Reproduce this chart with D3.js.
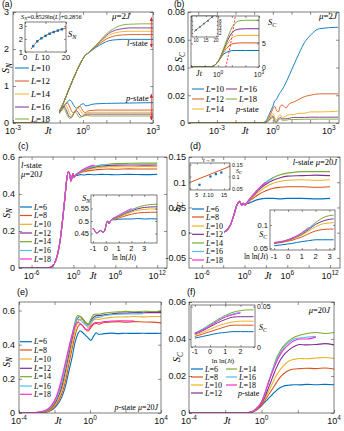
<!DOCTYPE html>
<html><head><meta charset="utf-8">
<script src="https://cdn.jsdelivr.net/npm/d3@7"></script>
<style>body{margin:0;background:#fff}svg{display:block}</style>
</head><body>
<script>
const SANS="'Liberation Sans', Arial, Helvetica, sans-serif";
const SERIF="'Liberation Serif', 'Times New Roman', serif";
const AX="#262626";
const C7=["#0072BD","#D95319","#EDB120","#7E2F8E","#77AC30","#4DBEEE","#FF2CD0"];
const C5=C7.slice(0,5);

// ---------- DATA ----------
const aL=[10,12,14,16,18];
const cL=[6,8,10,12,14,16,18];
// (a) log10(Jt) grids and values
const aLogT=[-3,-2,-1.5,-1.2,-1,-0.8,-0.6,-0.4,-0.2,0,0.1,0.2,0.35,0.5,0.7,0.9,1.1,1.4,1.7,2,2.5,3];
const aLstate=[
 [0,0,0.03,0.15,0.33,0.6,0.92,1.22,1.5,1.74,1.83,1.88,1.95,2.02,2.1,2.17,2.22,2.25,2.26,2.26,2.26,2.26],
 [0,0,0.03,0.15,0.33,0.6,0.92,1.22,1.5,1.74,1.83,1.88,1.96,2.04,2.14,2.23,2.3,2.36,2.38,2.39,2.39,2.39],
 [0,0,0.03,0.15,0.33,0.6,0.92,1.22,1.5,1.74,1.83,1.88,1.97,2.05,2.17,2.28,2.37,2.44,2.47,2.48,2.48,2.48],
 [0,0,0.03,0.15,0.33,0.6,0.92,1.22,1.5,1.74,1.83,1.88,1.97,2.06,2.19,2.31,2.42,2.51,2.55,2.57,2.57,2.57],
 [0,0,0.03,0.15,0.33,0.6,0.92,1.22,1.5,1.74,1.83,1.88,1.98,2.07,2.2,2.34,2.46,2.58,2.65,2.67,2.68,2.68]];
const pLogT=[-3,-2,-1.6,-1.3,-1.15,-1.0,-0.92,-0.85,-0.78,-0.7,-0.63,-0.56,-0.49,-0.42,-0.35,-0.27,-0.2,-0.13,-0.05,0.03,0.1,0.2,0.35,0.6,1,2,3];
const aPstate=[
 [0,0,0.02,0.1,0.19,0.28,0.34,0.4,0.47,0.54,0.6,0.62,0.58,0.5,0.43,0.4,0.41,0.47,0.51,0.52,0.47,0.47,0.5,0.52,0.53,0.54,0.55],
 [0,0,0.02,0.1,0.19,0.28,0.36,0.44,0.5,0.55,0.52,0.42,0.32,0.28,0.3,0.38,0.44,0.45,0.38,0.3,0.28,0.32,0.34,0.35,0.35,0.35,0.35],
 [0,0,0.02,0.1,0.19,0.29,0.38,0.46,0.5,0.46,0.35,0.25,0.2,0.24,0.33,0.39,0.4,0.35,0.27,0.23,0.25,0.28,0.29,0.29,0.29,0.29,0.29],
 [0,0,0.02,0.1,0.2,0.3,0.4,0.45,0.43,0.33,0.22,0.16,0.15,0.22,0.31,0.33,0.28,0.21,0.18,0.2,0.23,0.24,0.24,0.24,0.24,0.24,0.24],
 [0,0,0.02,0.1,0.2,0.32,0.4,0.42,0.36,0.25,0.16,0.12,0.16,0.24,0.3,0.26,0.18,0.15,0.17,0.19,0.2,0.2,0.19,0.19,0.19,0.19,0.19]];
const aArrowLogT=2.93, aArrowL=[2.05,2.85], aArrowP=[0.08,0.78];
// (a) inset
const aiL=[4,6,8,10,12,14,16,18];
const aiS=[1.45,1.82,2.05,2.24,2.4,2.53,2.64,2.74];
const aiFitL=[3,4,5,6,8,10,12,14,16,18,20];
const aiFitS=[1.22,1.47,1.66,1.81,2.06,2.25,2.41,2.54,2.65,2.75,2.84];
// (b)
const bLogT=[-4.5,-2,-1,-0.6,-0.4,-0.3,-0.2,-0.1,0,0.1,0.2,0.3,0.4,0.5,0.7,0.9,1.1,1.4,1.7,2,2.5,3.5];
const bPstate=[
 [0,0,0,0.0002,0.001,0.003,0.006,0.009,0.012,0.016,0.017,0.02,0.022,0.024,0.029,0.035,0.041,0.05,0.058,0.063,0.068,0.069],
 [0,0,0,0,0.0005,0.002,0.004,0.007,0.01,0.012,0.009,0.008,0.012,0.013,0.011,0.014,0.015,0.017,0.019,0.02,0.021,0.021],
 [0,0,0,0,0.0003,0.001,0.003,0.005,0.007,0.004,0.002,0.005,0.006,0.004,0.005,0.006,0.006,0.007,0.007,0.008,0.008,0.0085],
 [0,0,0,0,0.0002,0.001,0.002,0.004,0.005,0.002,0.001,0.003,0.004,0.003,0.003,0.0035,0.004,0.004,0.004,0.0042,0.0042,0.0042],
 [0,0,0,0,0.0002,0.001,0.002,0.003,0.004,0.001,0.0005,0.002,0.003,0.002,0.002,0.0025,0.0025,0.0026,0.0027,0.0027,0.0028,0.0028]];
const biLogT=[-2,-1,-0.5,-0.2,0,0.2,0.4,0.6,0.8,1,1.3,1.6,2,3];
const biLstate=[
 [0,0,0.1,0.5,1.2,2.0,2.7,3.1,3.35,3.45,3.5,3.5,3.5,3.5],
 [0,0,0.1,0.5,1.2,2.1,3.1,3.9,4.5,4.85,5.05,5.1,5.1,5.1],
 [0,0,0.1,0.5,1.2,2.2,3.4,4.5,5.5,6.1,6.55,6.7,6.7,6.7],
 [0,0,0.1,0.5,1.2,2.3,3.7,5.0,6.3,7.2,7.85,8.05,8.1,8.1],
 [0,0,0.1,0.5,1.2,2.4,3.9,5.5,7.0,8.3,9.4,9.8,9.9,9.9]];
const biFitLogT=[0.55,0.75,0.95,1.1,1.3];
const biFitS=[0,2.5,5.5,8,11.5];
const bmL=[10,12,14,16,18];
const bmS=[3.5,5.1,6.7,8.1,9.9];
const bmFitL=[9,19], bmFitS=[2.7,10.7];
// (c)
const cLogT=[-7.8,-4,-3.4,-2.8,-2.3,-1.9,-1.5,-1.2,-0.96,-0.73,-0.5,-0.38,-0.2,-0.1,0.1,0.24,0.5,1,1.5,2,3,4,5,6,8,10,12];
const cLstate=[
 [0,0,0.002,0.02,0.07,0.15,0.28,0.39,0.48,0.52,0.5,0.47,0.49,0.51,0.49,0.5,0.5,0.505,0.503,0.506,0.504,0.506,0.505,0.504,0.506,0.505,0.506],
 [0,0,0.002,0.02,0.07,0.15,0.28,0.39,0.48,0.52,0.5,0.47,0.49,0.51,0.49,0.5,0.505,0.515,0.52,0.525,0.53,0.533,0.535,0.534,0.536,0.535,0.535],
 [0,0,0.002,0.02,0.07,0.15,0.28,0.39,0.48,0.52,0.5,0.47,0.49,0.51,0.49,0.5,0.505,0.518,0.525,0.532,0.54,0.545,0.547,0.548,0.547,0.549,0.548],
 [0,0,0.002,0.02,0.07,0.15,0.28,0.39,0.48,0.52,0.5,0.47,0.49,0.51,0.49,0.5,0.508,0.52,0.528,0.536,0.545,0.551,0.554,0.556,0.557,0.556,0.557],
 [0,0,0.002,0.02,0.07,0.15,0.28,0.39,0.48,0.52,0.5,0.47,0.49,0.51,0.49,0.5,0.508,0.52,0.53,0.538,0.548,0.556,0.561,0.564,0.566,0.567,0.567],
 [0,0,0.002,0.02,0.07,0.15,0.28,0.39,0.48,0.52,0.5,0.47,0.49,0.51,0.49,0.5,0.508,0.521,0.531,0.54,0.55,0.557,0.561,null,null,null,null],
 [0,0,0.002,0.02,0.07,0.15,0.28,0.39,0.48,0.52,0.5,0.47,0.49,0.51,0.49,0.5,0.509,0.523,0.535,0.545,0.556,null,null,null,null,null,null]];
const ciX=[-1,-0.85,-0.7,-0.55,-0.4,-0.25,-0.1,0.05,0.15,0.25,0.35,0.5,0.75,1,1.5,2,2.5,3,3.5,4];
const ciS=[
 [0.47,0.46,0.452,0.458,0.462,0.455,0.46,0.49,0.5,0.49,0.5,0.505,0.505,0.507,0.508,0.508,0.51,0.508,0.509,0.508],
 [0.47,0.46,0.452,0.458,0.462,0.455,0.46,0.49,0.5,0.49,0.5,0.505,0.508,0.512,0.52,0.527,0.532,0.534,0.535,0.535],
 [0.47,0.46,0.452,0.458,0.462,0.455,0.46,0.49,0.5,0.49,0.5,0.506,0.51,0.515,0.525,0.535,0.543,0.546,0.548,0.548],
 [0.47,0.46,0.452,0.458,0.462,0.455,0.46,0.49,0.5,0.49,0.5,0.507,0.512,0.518,0.53,0.54,0.549,0.554,0.556,0.557],
 [0.47,0.46,0.452,0.458,0.462,0.455,0.46,0.49,0.5,0.49,0.5,0.507,0.513,0.52,0.532,0.544,0.555,0.562,0.566,0.567],
 [0.47,0.46,0.452,0.458,0.462,0.455,0.46,0.49,0.5,0.49,0.5,0.508,0.514,0.521,0.534,0.546,0.553,null,null,null],
 [0.47,0.46,0.452,0.458,0.462,0.455,0.46,0.49,0.5,0.49,0.5,0.509,0.516,0.523,0.537,0.55,null,null,null,null]];
// (d)
const dLogT=[-7.8,-4,-3.4,-2.8,-2.3,-1.9,-1.5,-1.2,-0.96,-0.73,-0.5,-0.38,-0.2,-0.1,0.1,0.24,0.5,1,1.5,2,3,4,5,6,8,10,12];
const dLstate=[
 [0,0,0,0.002,0.008,0.018,0.035,0.05,0.058,0.062,0.057,0.054,0.058,0.057,0.055,0.058,0.058,0.061,0.064,0.066,0.068,0.068,0.067,0.068,0.068,0.067,0.068],
 [0,0,0,0.002,0.008,0.018,0.035,0.05,0.058,0.062,0.057,0.054,0.058,0.057,0.055,0.058,0.06,0.066,0.071,0.076,0.083,0.088,0.09,0.091,0.091,0.09,0.091],
 [0,0,0,0.002,0.008,0.018,0.035,0.05,0.058,0.062,0.057,0.054,0.058,0.057,0.055,0.058,0.061,0.068,0.075,0.081,0.091,0.098,0.102,0.104,0.105,0.104,0.105],
 [0,0,0,0.002,0.008,0.018,0.035,0.05,0.058,0.062,0.057,0.054,0.058,0.057,0.055,0.058,0.062,0.07,0.077,0.085,0.096,0.104,0.109,0.112,0.113,0.114,0.113],
 [0,0,0,0.002,0.008,0.018,0.035,0.05,0.058,0.062,0.057,0.054,0.058,0.057,0.055,0.058,0.062,0.071,0.079,0.087,0.1,0.109,0.115,0.118,0.121,0.121,0.121],
 [0,0,0,0.002,0.008,0.018,0.035,0.05,0.058,0.062,0.057,0.054,0.058,0.057,0.055,0.058,0.062,0.071,0.079,0.087,0.1,0.108,null,null,null,null,null],
 [0,0,0,0.002,0.008,0.018,0.035,0.05,0.058,0.062,0.057,0.054,0.058,0.057,0.055,0.058,0.063,0.072,0.08,0.088,0.1,null,null,null,null,null,null]];
const d1L=[6,10,12,14];
const d1S=[0.065,0.1,0.11,0.117];
const d1FitL=[2.5,17.2], d1FitS=[0.075,0.143];
const d2X=[-1,-0.5,0,0.3,0.6,1,1.5,2,2.5,3,3.3];
const d2S=[
 [0.055,0.057,0.059,0.06,0.062,0.064,0.066,0.068,0.068,0.068,0.068],
 [0.06,0.062,0.065,0.067,0.07,0.074,0.081,0.087,0.09,0.091,0.091],
 [0.061,0.063,0.066,0.069,0.073,0.078,0.087,0.096,0.102,0.104,0.105],
 [0.061,0.063,0.067,0.07,0.074,0.08,0.09,0.101,0.108,0.112,0.113],
 [0.062,0.064,0.068,0.071,0.075,0.081,0.092,0.105,0.115,0.12,0.121],
 [0.062,0.064,0.068,0.071,0.075,0.082,0.093,0.104,null,null,null],
 [0.062,0.064,0.068,0.072,0.076,0.083,0.095,null,null,null,null]];
// (e)
const eLogT=[-4,-3,-2.5,-2.2,-1.9,-1.6,-1.4,-1.2,-1.0,-0.85,-0.7,-0.55,-0.4,-0.25,-0.1,0.05,0.2,0.35,0.5,0.8,1.2,1.6,2,2.5,3,3.5,4];
const ePstate=[
 [0,0.001,0.005,0.015,0.04,0.09,0.15,0.24,0.33,0.41,0.46,0.48,0.47,0.455,0.44,0.425,0.45,0.47,0.46,0.465,0.468,0.465,0.467,0.466,0.467,0.466,0.467],
 [0,0.001,0.006,0.018,0.05,0.11,0.18,0.28,0.38,0.45,0.5,0.52,0.51,0.49,0.48,0.5,0.52,0.525,0.52,0.53,0.533,0.535,0.532,0.535,0.533,0.532,0.528],
 [0,0.002,0.008,0.022,0.06,0.13,0.21,0.31,0.41,0.48,0.53,0.55,0.545,0.52,0.5,0.52,0.545,0.55,0.548,0.555,0.56,0.562,0.563,0.565,0.563,0.565,0.565],
 [0,0.002,0.01,0.027,0.07,0.15,0.24,0.34,0.44,0.51,0.555,0.565,0.55,0.53,0.52,0.54,0.56,0.57,0.57,0.575,0.58,0.585,0.585,0.588,0.587,0.588,0.588],
 [0,0.003,0.012,0.032,0.08,0.17,0.26,0.36,0.46,0.53,0.57,0.565,0.55,0.53,0.52,0.55,0.575,0.58,0.578,0.585,0.59,0.592,0.595,0.593,0.596,0.594,0.595],
 [0,0.003,0.014,0.036,0.085,0.18,0.27,0.37,0.46,0.52,0.55,0.545,0.53,0.515,0.51,0.53,0.55,0.56,0.56,0.57,0.575,0.578,0.58,0.58,0.582,null,null],
 [0,0.004,0.016,0.04,0.095,0.2,0.29,0.38,0.46,0.51,0.53,0.525,0.51,0.49,0.49,0.51,0.525,0.53,0.53,0.535,0.538,0.54,0.54,0.539,null,null,null]];
// (f)
const fLogT=[-4,-1,-0.6,-0.3,0,0.2,0.4,0.6,0.8,1,1.2,1.5,1.8,2.1,2.5,3,3.5,4];
const fPstate=[
 [0,0,0.0003,0.0015,0.004,0.006,0.008,0.01,0.012,0.0135,0.0145,0.015,0.0153,0.0152,0.0155,0.0153,0.0155,0.0153],
 [0,0,0.0003,0.0015,0.004,0.007,0.01,0.013,0.016,0.019,0.021,0.023,0.0238,0.024,0.0242,0.024,0.0243,0.0238],
 [0,0,0.0004,0.0018,0.005,0.008,0.012,0.016,0.02,0.023,0.0255,0.028,0.029,0.0295,0.0293,0.0297,0.03,0.0295],
 [0,0,0.0004,0.002,0.005,0.009,0.014,0.019,0.024,0.028,0.031,0.034,0.036,0.037,0.0368,0.037,0.0375,0.0368],
 [0,0,0.0005,0.0022,0.006,0.011,0.017,0.023,0.029,0.033,0.036,0.039,0.041,0.042,0.043,0.0435,0.043,0.0435],
 [0,0,0.0005,0.0022,0.006,0.011,0.017,0.023,0.028,0.032,0.035,0.038,0.04,0.0405,0.041,0.0415,null,null],
 [0,0,0.0005,0.0022,0.006,0.011,0.017,0.022,0.027,0.031,0.034,0.037,0.039,0.04,0.04,0.041,null,null]];
const fiX=[-1,-0.5,0,0.5,1,1.5,2,2.5,2.85];
const fiS=[
 [0.011,0.013,0.015,0.017,0.018,0.019,0.019,0.019,0.019],
 [0.013,0.016,0.019,0.022,0.025,0.027,0.027,0.027,0.027],
 [0.015,0.018,0.022,0.026,0.029,0.031,0.032,0.032,0.032],
 [0.016,0.02,0.025,0.03,0.034,0.037,0.0375,0.0375,0.0375],
 [0.017,0.022,0.028,0.034,0.039,0.043,0.045,0.046,0.046],
 [0.017,0.022,0.027,0.033,0.038,0.041,0.043,null,null],
 [0.017,0.021,0.026,0.032,0.037,0.04,0.042,null,null]];

// ---------- DRAWING ----------
const svg=d3.select('body').append('svg').attr('width',344).attr('height',431);
svg.append('rect').attr('width',344).attr('height',431).attr('fill','#fff');
const defs=svg.append('defs');
defs.append('marker').attr('id','arr').attr('viewBox','0 0 10 10').attr('refX',9).attr('refY',5)
  .attr('markerWidth',4).attr('markerHeight',4).attr('markerUnits','userSpaceOnUse').attr('orient','auto-start-reverse')
  .append('path').attr('d','M0,1L10,5L0,9Z').attr('fill','#E8161B');
let nclip=0;

function rich(g,x,y,parts,o={}){
  const fs=o.fs||9;
  const t=g.append('text').attr('x',x).attr('y',y).attr('font-size',fs).attr('font-family',o.ff||SERIF)
    .attr('text-anchor',o.anchor||'start').attr('fill',o.fill||'#000');
  if(o.rot) t.attr('transform',`rotate(${o.rot},${x},${y})`);
  let shift=0;
  parts.forEach(([s,st])=>{
    st=st||'';
    const sp=t.append('tspan').text(s);
    let target=0;
    if(st.includes('sub')){target=fs*0.28;sp.attr('font-size',fs*0.72);}
    if(st.includes('sup')){target=-fs*0.4;sp.attr('font-size',fs*0.72);}
    if(target!==shift){sp.attr('dy',target-shift);shift=target;}
    if(st.includes('i')) sp.attr('font-style','italic');
  });
  return t;
}
function panel(o){
  const g=svg.append('g');
  const x=o.xlog?d3.scaleLog().domain([10**o.xdom[0],10**o.xdom[1]]).range([o.l,o.r]):d3.scaleLinear().domain(o.xdom).range([o.l,o.r]);
  const y=d3.scaleLinear().domain(o.ydom).range([o.b,o.t]);
  const id='clip'+(nclip++);
  g.append('clipPath').attr('id',id).append('rect').attr('x',o.l).attr('y',o.t).attr('width',o.r-o.l).attr('height',o.b-o.t);
  if(o.bg) g.append('rect').attr('x',o.l).attr('y',o.t).attr('width',o.r-o.l).attr('height',o.b-o.t).attr('fill','#fff');
  const plot=g.append('g').attr('clip-path',`url(#${id})`);
  return {g,plot,x,y,o,X:v=>o.xlog?x(10**v):x(v)};
}
function lines(P,xs,rows,colors,w,dash){
  rows.forEach((r,i)=>{
    const pts=xs.map((v,j)=>[v,r[j]]);
    const p=P.plot.append('path').datum(pts).attr('fill','none').attr('stroke',colors[i]).attr('stroke-width',w||1)
      .attr('stroke-linejoin','round')
      .attr('d',d3.line().defined(d=>d[1]!=null).x(d=>P.X(d[0])).y(d=>P.y(d[1])).curve(d3.curveMonotoneX));
    if(dash) p.attr('stroke-dasharray',dash);
  });
}
function squares(P,xs,ys,color,s){
  P.plot.selectAll(null).data(xs.map((v,i)=>[v,ys[i]])).enter().append('rect')
    .attr('x',d=>P.X(d[0])-s/2).attr('y',d=>P.y(d[1])-s/2).attr('width',s).attr('height',s).attr('fill',color);
}
function axes(P,a){
  const o=P.o,g=P.g,tl=a.tl||3,fs=a.fs||9;
  const xv=a.xt.map(v=>o.xlog?10**v:v);
  const style=s=>{s.select('.domain').remove();s.selectAll('line').attr('stroke',AX).attr('stroke-width',0.5);
    s.selectAll('text').attr('font-size',fs).attr('font-family',SANS).attr('fill','#111');};
  const fmt=a.yfmt||(d=>String(d));
  g.append('g').attr('transform',`translate(0,${o.b})`).call(d3.axisBottom(P.x).tickValues(xv).tickSize(-tl).tickFormat(()=>'')).call(style);
  g.append('g').attr('transform',`translate(0,${o.t})`).call(d3.axisTop(P.x).tickValues(xv).tickSize(-tl).tickFormat(()=>'')).call(style);
  const right=a.yside==='right';
  g.append('g').attr('transform',`translate(${o.l},0)`).call(d3.axisLeft(P.y).tickValues(a.yt).tickSize(-tl).tickPadding(a.ypad||3).tickFormat(right?()=>'':fmt)).call(style);
  g.append('g').attr('transform',`translate(${o.r},0)`).call(d3.axisRight(P.y).tickValues(a.yt).tickSize(-tl).tickPadding(a.ypad||3).tickFormat(right?fmt:()=>'')).call(style);
  g.append('rect').attr('x',o.l).attr('y',o.t).attr('width',o.r-o.l).attr('height',o.b-o.t).attr('fill','none').attr('stroke',AX).attr('stroke-width',0.6);
  if(a.xlog) a.xlog.forEach(e=>{
    const t=g.append('text').attr('x',P.X(e)).attr('y',o.b+a.xdy).attr('text-anchor','middle').attr('font-size',fs).attr('font-family',SANS).attr('fill','#111');
    t.append('tspan').text('10');
    t.append('tspan').attr('dy',-fs*0.42).attr('font-size',fs*0.72).text(e<0?'-'+(-e):String(e));
  });
  if(a.xlin) a.xlin.forEach(v=>{
    g.append('text').attr('x',P.X(v)).attr('y',o.b+a.xdy).attr('text-anchor','middle').attr('font-size',fs).attr('font-family',SANS).attr('fill','#111').text(String(v));
  });
}
function legend(g,labels,colors,x0,ys,len,fs,w,bg){
  if(bg) g.append('rect').attr('x',bg[0]).attr('y',bg[1]).attr('width',bg[2]).attr('height',bg[3]).attr('fill','#fff');
  labels.forEach((L,i)=>{
    g.append('line').attr('x1',x0).attr('x2',x0+len).attr('y1',ys[i]).attr('y2',ys[i]).attr('stroke',colors[i]).attr('stroke-width',w||1);
    rich(g,x0+len+2,ys[i]+fs*0.33,[['L','i'],['='+L,'']],{fs});
  });
}
const plab=(x,y,s,fs)=>svg.append('text').attr('x',x).attr('y',y).attr('font-size',fs||9).attr('font-family',SANS).text(s);

// ===== (a) =====
const A=panel({l:13,r:153,t:12,b:123,xlog:true,xdom:[-3,3],ydom:[0,3]});
lines(A,aLogT,aLstate,C5,0.9);
lines(A,pLogT,aPstate,C5,0.9);
[aArrowL,aArrowP].forEach(r=>A.g.append('line').attr('x1',A.X(aArrowLogT)).attr('x2',A.X(aArrowLogT))
  .attr('y1',A.y(r[0])).attr('y2',A.y(r[1])).attr('stroke','#E8161B').attr('stroke-width',0.7)
  .attr('marker-start','url(#arr)').attr('marker-end','url(#arr)'));
legend(A.g,aL,C5,15,[68,81,94,107,119],14,9,1,[14,61,45,61]);
axes(A,{xt:[-3,-2,-1,0,1,2,3],yt:[0,1,2,3],xlog:[-3,0,3],xdy:10.5,fs:9,ypad:4});
rich(A.g,48,133.5,[['Jt','i']],{fs:10,anchor:'middle'});
rich(A.g,9,68,[['S','i'],['N','i sub']],{fs:10,anchor:'middle',rot:-90});
rich(A.g,112,19,[['μ','i'],['=2',''],['J','i']],{fs:9});
rich(A.g,127,46,[['l','i'],['-state','']],{fs:8.5});
rich(A.g,126,101,[['p','i'],['-state','']],{fs:8.5});
// inset a
const Ai=panel({l:25,r:66,t:22,b:52,xdom:[0,20],ydom:[1,3.3],bg:true});
lines(Ai,aiFitL,[aiFitS],["#D95319"],1);
squares(Ai,aiL,aiS,"#0072BD",2.4);
axes(Ai,{xt:[0,10,20],yt:[1,2,3],xlin:[0,10,20],xdy:8,fs:7.5,tl:2,ypad:2});
rich(A.g,35,60,[['L','i']],{fs:7.5});
rich(A.g,21,18.5,[['S','i'],['N','i sub'],['=0.8529ln(',''],['L','i'],[')+0.2856','']],{fs:6.3});
rich(A.g,28,29,[['t','i'],['→∞','']],{fs:6.5});
rich(A.g,68,37,[['S','i'],['N','i sub']],{fs:8.5});
rich(A.g,44,49,[['l','i'],['-state','']],{fs:7.5});
plab(2,6.5,'(a)',8.5);

// ===== (b) =====
const B=panel({l:188,r:339,t:12,b:123,xlog:true,xdom:[-4.55,3.55],ydom:[0,0.08]});
lines(B,bLogT,bPstate,C5,0.9);
axes(B,{xt:[-4,-3,-2,-1,0,1,2,3],yt:[0,0.02,0.04,0.06,0.08],xlog:[-3,0,3],xdy:10.5,fs:9,ypad:3});
rich(B.g,245,133.5,[['Jt','i']],{fs:10,anchor:'middle'});
rich(B.g,182,57,[['S','i'],['C','i sub']],{fs:10,anchor:'middle',rot:-90});
rich(B.g,337,19,[['μ','i'],['=2',''],['J','i']],{fs:9,anchor:'end'});
legend(B.g,[10,12,14],C5.slice(0,3),192,[89,99,109],12,8.5,1);
legend(B.g,[16,18],C5.slice(3,5),226,[89,99],11,8.5,1);
rich(B.g,236,112,[['p','i'],['-state','']],{fs:8.5});
// inset b
const Bi=panel({l:191,r:259,t:16,b:67,xlog:true,xdom:[-2,3],ydom:[0,10.8],bg:true});
lines(Bi,biLogT,biLstate,C5,1);
lines(Bi,biFitLogT,[biFitS],["#FF3B3B"],1,"2,1.5");
axes(Bi,{xt:[-2,-1,0,1,2,3],yt:[0,5,10],yfmt:d=>d===10?'':String(d),yside:'right',xlog:[0,3],xdy:9.5,fs:6.8,tl:2,ypad:3});
rich(B.g,199,76,[['Jt','i']],{fs:8,anchor:'middle'});
rich(B.g,268,25,[['S','i'],['C','i sub']],{fs:8.5});
B.g.append('line').attr('x1',230).attr('x2',239).attr('y1',61).attr('y2',61).attr('stroke','#FF3B3B').attr('stroke-width',1).attr('stroke-dasharray','2,1.5');
rich(B.g,241,63,[['fit ∝ ',''],['t','i']],{fs:5.5});
rich(B.g,194,55,[['l','i'],['-state','']],{fs:8.5});
// mini inset
const Bm=panel({l:192,r:218,t:16,b:37,xdom:[8,21],ydom:[0,10.5],bg:true});
lines(Bm,bmFitL,[bmFitS],["#D95319"],0.9);
squares(Bm,bmL,bmS,"#0072BD",1.6);
axes(Bm,{xt:[10,15,20],yt:[2,4,6,8],yside:'right',xlin:[10,15,20],xdy:5,fs:4.5,tl:1.2,ypad:1});
rich(B.g,195,22,[['t','i'],['→∞','']],{fs:5});
rich(B.g,223,24,[['S','i'],['C','i sub']],{fs:5.5});
rich(B.g,201.5,42,[['L','i']],{fs:5});
plab(174,6.5,'(b)',8.5);

// ===== (c) =====
const Cp=panel({l:19,r:167,t:157,b:268,xlog:true,xdom:[-7.8,13.4],ydom:[0,0.6]});
lines(Cp,cLogT,cLstate,C7,1.1);
legend(Cp.g,cL,C7,20,[207,215.5,224.3,233,241.7,250.5,259],12,8,1.2,[20,202,34,62]);
axes(Cp,{xt:[-6,-3,0,3,6,9,12],yt:[0,0.2,0.4,0.6],xlog:[-6,0,6,12],xdy:10.5,fs:9,ypad:4});
rich(Cp.g,93,278.5,[['Jt','i']],{fs:10,anchor:'middle'});
rich(Cp.g,9.5,213,[['S','i'],['N','i sub']],{fs:10,anchor:'middle',rot:-90});
rich(Cp.g,21,168,[['l','i'],['-state','']],{fs:8.5});
rich(Cp.g,21,177,[['μ','i'],['=20',''],['J','i']],{fs:8.5});
const Ci=panel({l:91,r:157,t:195,b:243,xdom:[-1.16,4],ydom:[0.412,0.604],bg:true});
lines(Ci,ciX,ciS,C7,1);
axes(Ci,{xt:[-1,0,1,2,3],yt:[0.45,0.5,0.55],xlin:[-1,0,1,2,3],xdy:8,fs:7.5,tl:2,ypad:2});
rich(Cp.g,90,201,[['S','i'],['N','i sub']],{fs:8,anchor:'end'});
rich(Cp.g,124,260,[['ln ln(',''],['Jt','i'],[')','']],{fs:7.5,anchor:'middle'});
plab(18,149,'(c)');

// ===== (d) =====
const D=panel({l:189,r:340,t:157,b:268,xlog:true,xdom:[-7.8,13.4],ydom:[-0.07,0.15]});
lines(D,dLogT,dLstate,C7,1.1);
legend(D.g,cL,C7,192,[209,217,226,234.3,243,251.5,260],12,8,1.2,[190,203,34,62]);
axes(D,{xt:[-6,-3,0,3,6,9,12],yt:[-0.05,0,0.05,0.1,0.15],xlog:[-6,0,6,12],xdy:10.5,fs:9,ypad:3});
rich(D.g,268,278.5,[['Jt','i']],{fs:10,anchor:'middle'});
rich(D.g,180,207,[['S','i'],['C','i sub']],{fs:10,anchor:'middle',rot:-90});
rich(D.g,337,165,[['l','i'],['-state  ',''],['μ','i'],['=20',''],['J','i']],{fs:8.5,anchor:'end'});
const D1=panel({l:190,r:230,t:163,b:190,xdom:[2.5,17.2],ydom:[0.043,0.157],bg:true});
lines(D1,d1FitL,[d1FitS],["#D95319"],1);
squares(D1,d1L,d1S,"#0072BD",2.2);
axes(D1,{xt:[5,10,15],yt:[0.05,0.1,0.15],yside:'right',xlin:[5,10,15],xdy:7,fs:5.5,tl:1.5,ypad:2});
rich(D.g,203,197,[['L','i']],{fs:6.5});
rich(D.g,236,172.5,[['S','i'],['C','i sub']],{fs:6});
rich(D.g,203,162,[['t','i'],['→∞','']],{fs:6});
const D2=panel({l:270,r:335,t:210,b:250,xdom:[-1.3,3.4],ydom:[0.046,0.132],bg:true});
lines(D2,d2X,d2S,C7,1);
axes(D2,{xt:[-1,0,1,2,3],yt:[0.05,0.1],xlin:[-1,0,1,2,3],xdy:8.5,fs:7.5,tl:2,ypad:2});
rich(D.g,267,237,[['S','i'],['C','i sub']],{fs:8,anchor:'end'});
rich(D.g,268,258.5,[['ln ln(',''],['Jt','i'],[')','']],{fs:7.5,anchor:'end'});
plab(190,149,'(d)');

// ===== (e) =====
const E=panel({l:19,r:161,t:302,b:413,xlog:true,xdom:[-4,4],ydom:[0,0.65]});
lines(E,eLogT,ePstate,C7,1.1);
legend(E.g,cL,C7,20,[341.7,350,359,368.3,376.7,386,394.3],12,8,1.2,[20,337,34,62]);
axes(E,{xt:[-4,-2,0,2,4],yt:[0,0.2,0.4,0.6],xlog:[-4,0,4],xdy:10.5,fs:9,ypad:4});
rich(E.g,58,423.5,[['Jt','i']],{fs:10,anchor:'middle'});
rich(E.g,9.5,362,[['S','i'],['N','i sub']],{fs:10,anchor:'middle',rot:-90});
rich(E.g,158,410,[['p','i'],['-state  ',''],['μ','i'],['=20',''],['J','i']],{fs:8,anchor:'end'});
plab(17,295,'(e)');

// ===== (f) =====
const F=panel({l:189,r:334,t:302,b:413,xlog:true,xdom:[-4,4],ydom:[0,0.06]});
lines(F,fLogT,fPstate,C7,1.1);
legend(F.g,cL.slice(0,4),C7.slice(0,4),191,[369,377,385,393],12,8,1.2);
legend(F.g,cL.slice(4),C7.slice(4),226,[369,377,385],11,8,1.2);
rich(F.g,238,396,[['p','i'],['-state','']],{fs:8});
axes(F,{xt:[-4,-2,0,2,4],yt:[0,0.02,0.04,0.06],xlog:[-4,0,4],xdy:11,fs:9,ypad:3});
rich(F.g,227,424,[['Jt','i']],{fs:10,anchor:'middle'});
rich(F.g,180,357,[['S','i'],['C','i sub']],{fs:10,anchor:'middle',rot:-90});
rich(F.g,330,313,[['μ','i'],['=20',''],['J','i']],{fs:8.5,anchor:'end'});
const Fi=panel({l:191,r:255,t:305,b:347,xdom:[-1.25,2.95],ydom:[0,0.052],bg:true});
lines(Fi,fiX,fiS,C7,1);
axes(Fi,{xt:[-1,0,1,2],yt:[0,0.05],yside:'right',xlin:[-1,0,1,2],xdy:7,fs:7,tl:2,ypad:2});
rich(F.g,259,330,[['S','i'],['C','i sub']],{fs:8});
rich(F.g,223,362.5,[['ln ln(',''],['Jt','i'],[')','']],{fs:7,anchor:'middle'});
plab(187,295,'(f)');
</script>
</body></html>
